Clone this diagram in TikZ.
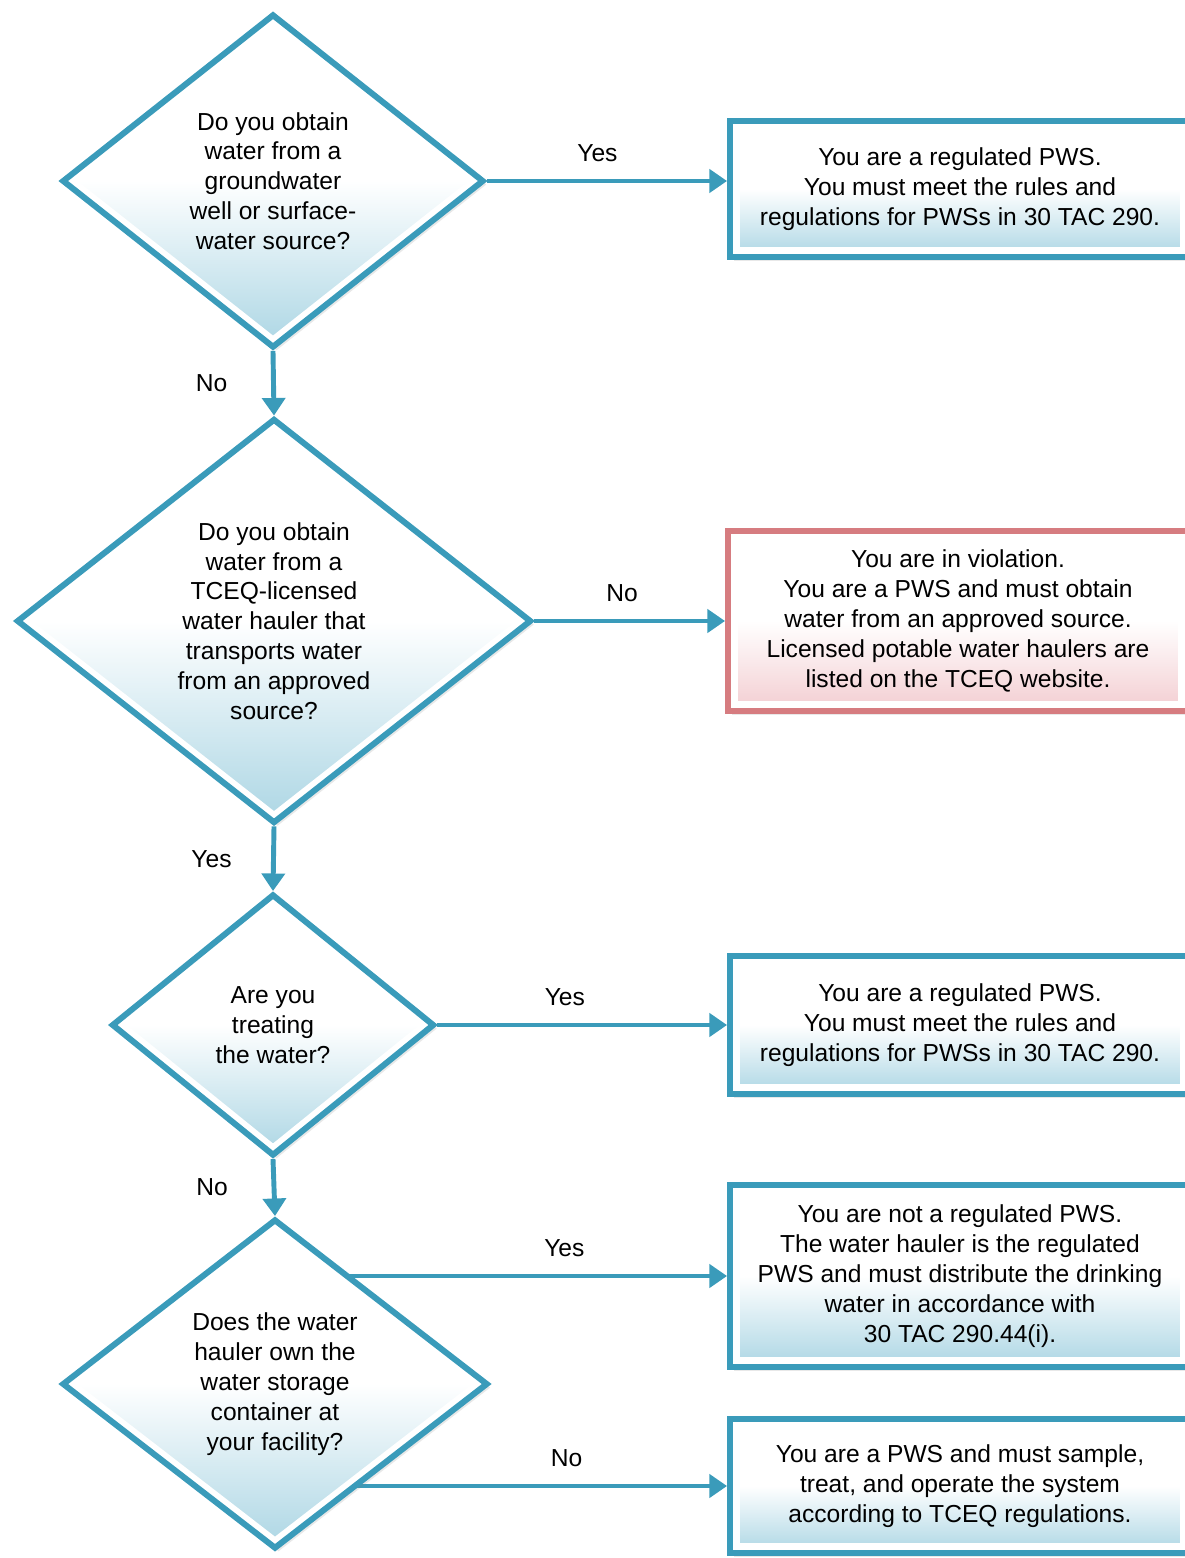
\documentclass[tikz,border=0pt]{standalone}
\usepackage{fontspec}
\setmainfont{Liberation Sans}
\usetikzlibrary{shapes.geometric,arrows.meta,shadows,backgrounds,positioning}
\definecolor{pwsblue}{RGB}{58,155,186}
\definecolor{pwsred}{RGB}{214,124,128}
\definecolor{pwsshade}{RGB}{172,214,228}
\definecolor{pwspink}{RGB}{243,205,209}

\begin{document}
\begin{tikzpicture}[x=0.02cm,y=-0.02cm,
    every node/.style={align=center,font=\fontsize{14}{17}\selectfont,text=black},
    query/.style={diamond,draw=pwsblue,line width=3.4pt,inner sep=0pt,
        top color=white,bottom color=pwsshade,middle color=white,
        drop shadow={opacity=0.18,shadow xshift=2pt,shadow yshift=-2pt},
        path picture={\draw[white,line width=10pt] (path picture bounding box.north) -- (path picture bounding box.east)
            -- (path picture bounding box.south) -- (path picture bounding box.west) -- cycle;}},
    verdict/.style={rectangle,draw=pwsblue,line width=3.4pt,inner sep=0pt,minimum width=9.2cm,
        top color=white,bottom color=pwsshade,middle color=white,
        drop shadow={opacity=0.18,shadow xshift=2pt,shadow yshift=-2pt},
        path picture={\draw[white,line width=11pt] (path picture bounding box.south west) rectangle (path picture bounding box.north east);}},
    warn/.style={verdict,draw=pwsred,bottom color=pwspink,middle color=white},
    link/.style={pwsblue,line width=2.8pt,-{Triangle[width=13pt,length=10pt]}}]
    \useasboundingbox (0,0) rectangle (1184,1558);

    \node[query,minimum width=8.44cm,minimum height=6.68cm] (q1) at (273,181) {Do you obtain\\water from a\\groundwater\\well or surface-\\water source?};
    \node[query,minimum width=10.3cm,minimum height=8.1cm] (q2) at (274,621) {Do you obtain\\water from a\\TCEQ-licensed\\water hauler that\\transports water\\from an approved\\source?};
    \node[query,minimum width=6.46cm,minimum height=5.24cm] (q3) at (273,1025) {Are you\\treating\\the water?};
    \node[query,minimum width=8.52cm,minimum height=6.6cm] (q4) at (275,1384) {Does the water\\hauler own the\\water storage\\container at\\your facility?};

    \node[verdict,minimum height=2.72cm] (r1) at (960,189) {You are a regulated PWS.\\You must meet the rules and\\regulations for PWSs in 30 TAC 290.};
    \node[warn,minimum height=3.6cm] (r2) at (958,621) {You are in violation.\\You are a PWS and must obtain\\water from an approved source.\\Licensed potable water haulers are\\listed on the TCEQ website.};
    \node[verdict,minimum height=2.76cm] (r3) at (960,1025) {You are a regulated PWS.\\You must meet the rules and\\regulations for PWSs in 30 TAC 290.};
    \node[verdict,minimum height=3.64cm] (r4) at (960,1276) {You are not a regulated PWS.\\The water hauler is the regulated\\PWS and must distribute the drinking\\water in accordance with\\30 TAC 290.44(i).};
    \node[verdict,minimum height=2.68cm] (r5) at (960,1486) {You are a PWS and must sample,\\treat, and operate the system\\according to TCEQ regulations.};

    \begin{scope}[on background layer]
        \foreach \a/\b/\t in {q1/q2/No,q2/q3/Yes,q3/q4/No}
            \draw[link] (\a.south) -- (\b.north) node[midway,xshift=-1.24cm] (lab\a) {\t};
        \draw[link] (q1.east) -- (q1.east -| r1.west) node[pos=0.46,above=6pt] (yes1) {Yes};
        \draw[link] (q2.east) -- (q2.east -| r2.west) node[pos=0.46,above=6pt] (no2) {No};
        \draw[link] (q3.east) -- (q3.east -| r3.west) node[pos=0.44,above=6pt] (yes3) {Yes};
        \draw[link] (q4.center |- r4.west) -- (r4.west) node[pos=0.64,above=6pt] (yes4) {Yes};
        \draw[link] (q4.center |- r5.west) -- (r5.west) node[pos=0.645,above=6pt] (no4) {No};
    \end{scope}
\end{tikzpicture}
\end{document}
